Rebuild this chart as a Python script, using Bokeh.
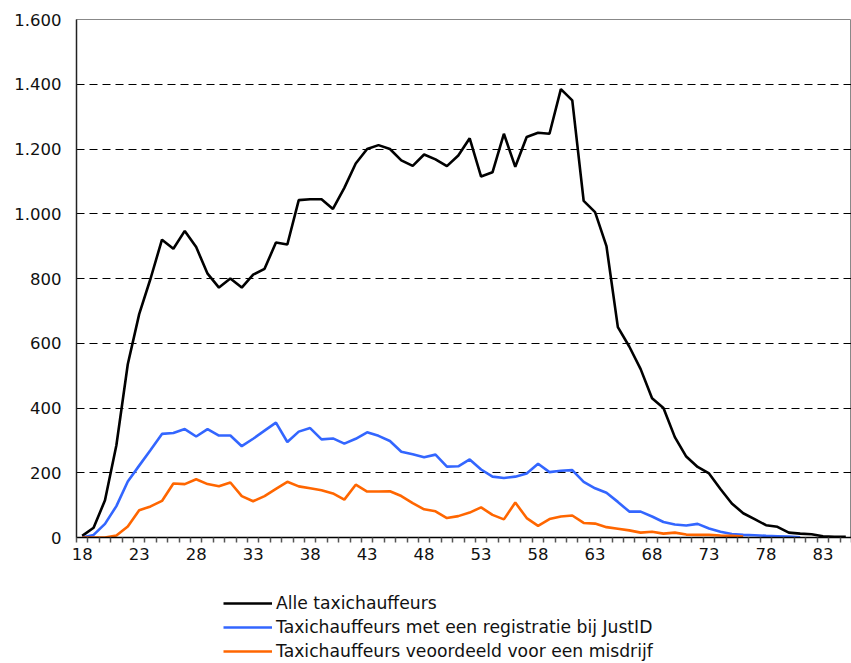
from bokeh.plotting import figure
from bokeh.models import Range1d, FixedTicker, Legend, LegendItem
from bokeh.layouts import column
from bokeh.embed import file_html
from bokeh.resources import INLINE

ages = list(range(18, 86))

alle = [5, 30, 115, 285, 535, 690, 800, 920, 892, 947,
        897, 815, 772, 800, 772, 812, 830, 911, 905, 1042,
        1045, 1045, 1015, 1080, 1155, 1200, 1212, 1200, 1165, 1148,
        1183, 1168, 1147, 1180, 1233, 1115, 1128, 1247, 1145, 1237,
        1250, 1247, 1385, 1350, 1040, 1005, 900, 650, 590, 520,
        430, 400, 310, 250, 218, 198, 150, 105, 75, 57,
        38, 33, 15, 12, 10, 4, 2, 2]

justid = [0, 8, 42, 97, 173, 222, 270, 320, 323, 335,
          312, 335, 315, 315, 282, 305, 330, 355, 295, 327,
          338, 303, 306, 290, 305, 325, 314, 298, 265, 257,
          248, 256, 219, 220, 241, 210, 188, 184, 188, 198,
          228, 202, 206, 208, 172, 152, 138, 110, 80, 80,
          65, 48, 40, 37, 42, 28, 18, 11, 8, 7,
          5, 4, 3, 1, None, None, None, None]

misdrijf = [0, 0, 0, 6, 34, 84, 96, 113, 167, 165,
            180, 165, 158, 170, 128, 112, 128, 150, 172, 158,
            152, 146, 136, 117, 163, 142, 142, 143, 128, 106,
            87, 81, 60, 66, 77, 93, 70, 56, 108, 60,
            36, 57, 65, 68, 45, 43, 32, 27, 22, 15,
            18, 12, 15, 9, 8, 8, 6, 5, 3, None,
            None, None, None, None, None, None, None, None]

series_names = ["Alle taxichauffeurs",
                "Taxichauffeurs met een registratie bij JustID",
                "Taxichauffeurs veoordeeld voor een misdrijf"]
series_colors = ["#000000", "#3366ff", "#ff6600"]

y_ticks = [0, 200, 400, 600, 800, 1000, 1200, 1400, 1600]
y_labels = {v: (f"{v:,}".replace(",", ".")) for v in y_ticks}
x_ticks = list(range(18, 86, 5))

FONT = "DejaVu Sans"
FSIZE = "16.5px"

p = figure(width=851, height=565, output_backend="svg", toolbar_location=None,
           x_range=Range1d(17.5, 85.5), y_range=Range1d(0, 1600),
           min_border_left=76, min_border_right=0, min_border_top=19,
           min_border_bottom=28)
p.outline_line_color = "#888888"
p.background_fill_color = "white"
p.border_fill_color = "white"

def nanify(vals):
    return [float("nan") if v is None else v for v in vals]

for vals, col in zip([alle, justid, misdrijf], series_colors):
    p.line(ages, nanify(vals), line_color=col, line_width=2.6)

p.xgrid.visible = False
p.ygrid.ticker = FixedTicker(ticks=y_ticks)
p.ygrid.grid_line_color = "#000000"
p.ygrid.grid_line_dash = "8 5"
p.ygrid.grid_line_width = 1

ya = p.yaxis[0]
ya.ticker = FixedTicker(ticks=y_ticks)
ya.major_label_overrides = y_labels
ya.major_tick_out = 0
ya.major_tick_in = 0
ya.minor_tick_out = 0
ya.minor_tick_in = 0
ya.major_label_standoff = 15
ya.axis_line_color = "#222222"
ya.axis_line_width = 1.5
ya.major_label_text_font = FONT
ya.major_label_text_font_size = FSIZE
ya.major_label_text_color = "#111111"

xa = p.xaxis[0]
xa.ticker = FixedTicker(ticks=x_ticks,
                        minor_ticks=[a - 0.5 for a in ages] + [ages[-1] + 0.5])
xa.major_tick_out = 0
xa.major_tick_in = 0
xa.minor_tick_out = 5
xa.minor_tick_in = 0
xa.minor_tick_line_color = "#555555"
xa.minor_tick_line_width = 1.5
xa.axis_line_color = "#000000"
xa.axis_line_width = 1.5
xa.major_label_standoff = 5
xa.major_label_text_font = FONT
xa.major_label_text_font_size = FSIZE
xa.major_label_text_color = "#111111"

# legend panel below the chart
lg = figure(width=851, height=98, output_backend="svg", toolbar_location=None,
            x_range=Range1d(0, 1), y_range=Range1d(0, 1),
            min_border=0, x_axis_type=None, y_axis_type=None)
lg.outline_line_color = None
lg.xgrid.visible = False
lg.ygrid.visible = False
nan = float("nan")
lg_renderers = [lg.line(x=[nan, nan], y=[nan, nan], line_color=c, line_width=2.6)
                for c in series_colors]
items = [LegendItem(label=n, renderers=[r]) for n, r in zip(series_names, lg_renderers)]
legend = Legend(items=items, location=(147, 2), orientation="vertical",
                border_line_color=None, background_fill_alpha=0,
                padding=0, margin=0, spacing=4, glyph_width=49,
                glyph_height=20, label_height=20, label_standoff=4,
                label_text_font=FONT, label_text_font_size="17.2px",
                label_text_color="#111111")
lg.add_layout(legend, "center")

layout = column(p, lg, spacing=0)
open("out.html", "w").write(file_html(layout, INLINE))
